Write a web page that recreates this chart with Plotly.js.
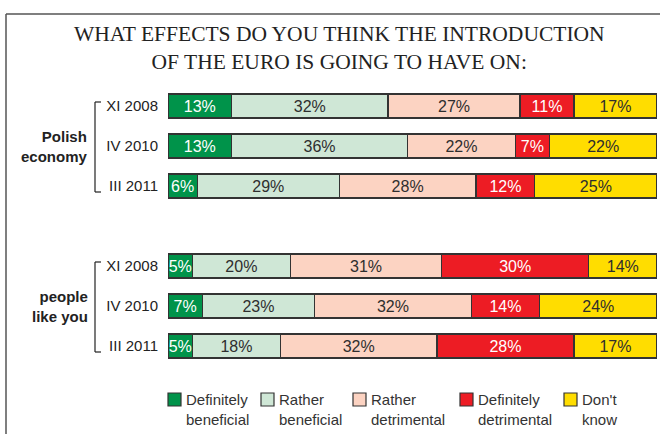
<!DOCTYPE html>
<html>
<head>
<meta charset="utf-8">
<script src="https://cdn.plot.ly/plotly-3.0.1.min.js"></script>
<style>html,body{margin:0;padding:0;background:#fff;}#chart{width:660px;height:434px;}</style>
</head>
<body>
<div id="chart"></div>
<script>
// ---- data ----
const periods = ['XI 2008', 'IV 2010', 'III 2011'];
const groups = ['Polish<br>economy', 'people<br>like you'];
const seriesNames = ['Definitely<br>beneficial', 'Rather<br>beneficial', 'Rather<br>detrimental', 'Definitely<br>detrimental', "Don't<br>know"];
const definitelyBeneficial = [13, 13, 6, 5, 7, 5];
const ratherBeneficial = [32, 36, 29, 20, 23, 18];
const ratherDetrimental = [27, 22, 28, 31, 32, 32];
const definitelyDetrimental = [11, 7, 12, 30, 14, 28];
const dontKnow = [17, 22, 25, 14, 24, 17];

// ---- styles ----
const colors = ['#00934a', '#cfe7d6', '#fcd3c2', '#ed1c24', '#ffdd00'];
const textColors = ['#ffffff', '#2e2e2e', '#2e2e2e', '#ffffff', '#2e2e2e'];
const font = 'Liberation Sans, Arial, sans-serif';

// row positions: each group has 3 rows, separated by one empty row
const yPos = [];
const yText = [];
groups.forEach((g, gi) => periods.forEach((p, pi) => { yPos.push(gi * 4 + pi); yText.push(p); }));

const allSeries = [definitelyBeneficial, ratherBeneficial, ratherDetrimental, definitelyDetrimental, dontKnow];
const traces = allSeries.map((vals, si) => ({
  type: 'bar',
  orientation: 'h',
  name: seriesNames[si],
  x: vals,
  y: yPos,
  width: 0.6,
  marker: { color: colors[si], line: { color: '#333333', width: 1.3 } },
  texttemplate: '%{x}%',
  textposition: 'inside',
  insidetextanchor: 'middle',
  textangle: 0,
  constraintext: 'none',
  textfont: { family: font, size: 16, color: textColors[si] },
  hoverinfo: 'skip'
}));

// pixel -> paper helpers (plot area: x 168..657, y 86..366)
const L = 168, R = 3, T = 86, B = 68, W = 660, H = 434;
const pw = W - L - R, ph = H - T - B;
const px = v => (v - L) / pw;
const py = v => (H - B - v) / ph;

const shapes = [];
const annotations = [];

// frame
shapes.push({ type: 'line', xref: 'paper', yref: 'paper', x0: px(6), x1: px(6), y0: py(14), y1: py(440), line: { color: '#555', width: 1.5 } });
shapes.push({ type: 'line', xref: 'paper', yref: 'paper', x0: px(6), x1: px(665), y0: py(14), y1: py(14), line: { color: '#555', width: 1.5 } });

// group brackets and labels
groups.forEach((g, gi) => {
  const top = gi * 4 - 0.1, bot = gi * 4 + 2 + 0.15;
  shapes.push({ type: 'line', xref: 'paper', yref: 'y', x0: px(95), x1: px(95), y0: top, y1: bot, line: { color: '#222', width: 1.2 } });
  shapes.push({ type: 'line', xref: 'paper', yref: 'y', x0: px(95), x1: px(101), y0: top, y1: top, line: { color: '#222', width: 1.2 } });
  shapes.push({ type: 'line', xref: 'paper', yref: 'y', x0: px(95), x1: px(101), y0: bot, y1: bot, line: { color: '#222', width: 1.2 } });
  annotations.push({ xref: 'paper', yref: 'y', x: px(90), y: gi * 4 + 1, xanchor: 'right', yanchor: 'middle', align: 'right',
    text: '<b>' + g + '</b>', showarrow: false, font: { family: font, size: 15, color: '#222' } });
});

// legend (custom, two-line labels)
const legSquareX = [168, 261, 353, 460, 564];
seriesNames.forEach((n, i) => {
  const x0 = legSquareX[i];
  shapes.push({ type: 'rect', xref: 'paper', yref: 'paper', x0: px(x0), x1: px(x0 + 13), y0: py(393), y1: py(406),
    fillcolor: colors[i], line: { color: '#333', width: 1.2 } });
  annotations.push({ xref: 'paper', yref: 'paper', x: px(x0 + 16), y: py(389), xanchor: 'left', yanchor: 'top', align: 'left',
    text: n, showarrow: false, font: { family: font, size: 15, color: '#333' } });
});

const layout = {
  width: W, height: H,
  margin: { l: L, r: R, t: T, b: B, pad: 0 },
  paper_bgcolor: '#fff', plot_bgcolor: '#fff',
  barmode: 'stack',
  bargap: 0,
  showlegend: false,
  uniformtext: { mode: 'show', minsize: 16 },
  title: {
    text: 'WHAT EFFECTS DO YOU THINK THE INTRODUCTION<br>OF THE EURO IS GOING TO HAVE ON:',
    font: { family: 'Liberation Serif, Times New Roman, serif', size: 21.5, color: '#222' },
    x: 0.514, xanchor: 'center', xref: 'container', y: 0.905, yanchor: 'top', yref: 'container'
  },
  xaxis: { range: [0, 100], visible: false, fixedrange: true },
  yaxis: {
    range: [6.5, -0.5],
    tickmode: 'array', tickvals: yPos, ticktext: yText,
    ticks: '', ticklabelstandoff: 9,
    showgrid: false, zeroline: false, showline: false,
    tickfont: { family: font, size: 15, color: '#222' },
    fixedrange: true
  },
  shapes: shapes,
  annotations: annotations
};

Plotly.newPlot('chart', traces, layout, { displayModeBar: false, staticPlot: true });
</script>
</body>
</html>
